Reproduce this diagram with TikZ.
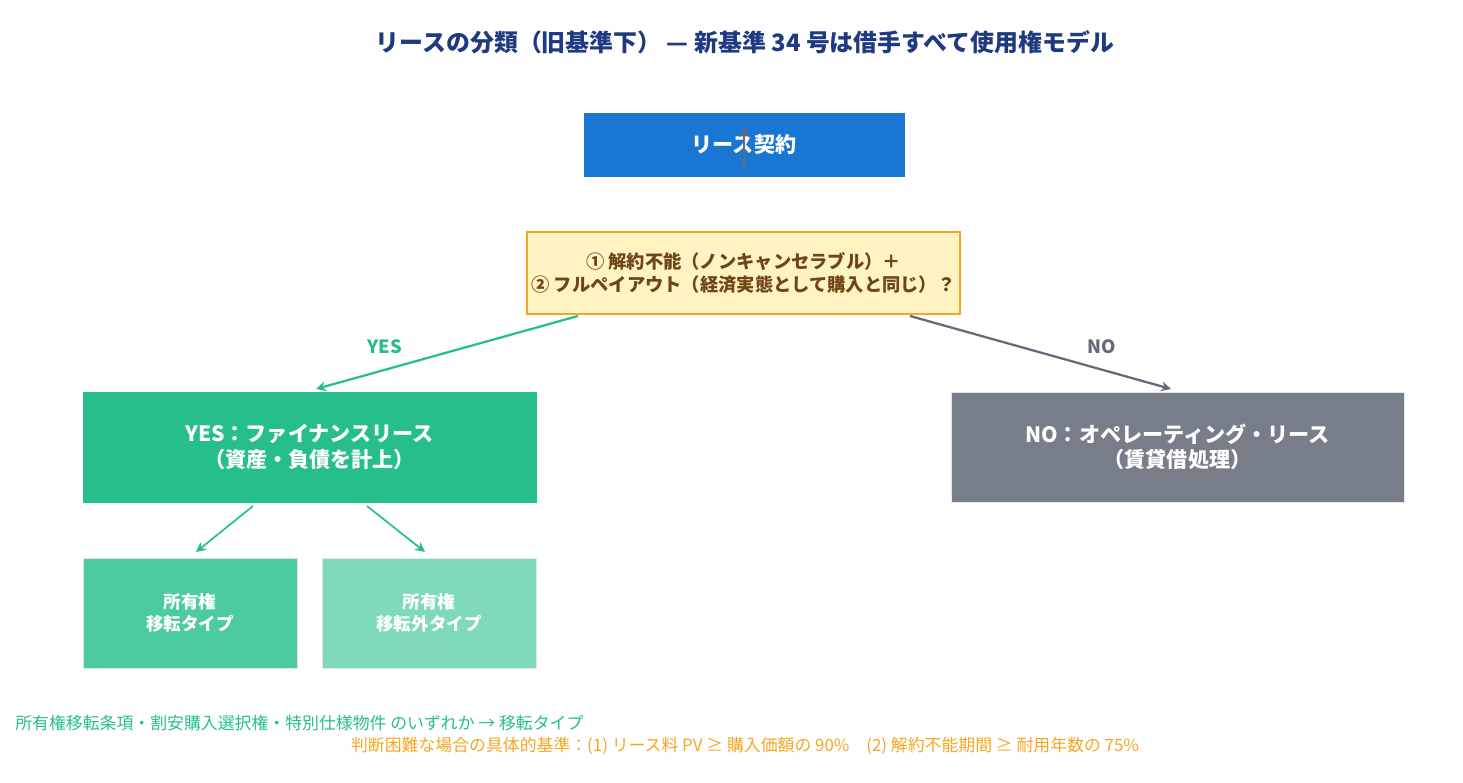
\documentclass[tikz,border=0pt]{standalone}
\usepackage{fontspec}
\setmainfont{Noto Sans CJK JP}
\usetikzlibrary{arrows.meta}
\definecolor{leaseNavy}{RGB}{31, 58, 128}
\definecolor{leaseBlue}{RGB}{25, 118, 210}
\definecolor{leaseCream}{RGB}{255, 243, 196}
\definecolor{leaseOrange}{RGB}{245, 166, 35}
\definecolor{leaseBrown}{RGB}{110, 70, 20}
\definecolor{leaseGreen}{RGB}{38, 191, 140}
\definecolor{leaseGreenMid}{RGB}{77, 203, 160}
\definecolor{leaseGreenLight}{RGB}{127, 217, 188}
\definecolor{leaseGray}{RGB}{120, 125, 138}
\definecolor{leaseArrowGray}{RGB}{100, 106, 120}
\tikzset{
  box/.style={draw=#1, fill=#1, text=white, font=\bfseries\fontsize{15}{18}\selectfont, align=center, inner sep=0pt},
  smallbox/.style={draw=black!10, fill=#1, text=white, font=\bfseries\fontsize{12.5}{16}\selectfont, align=center, inner sep=0pt, minimum width=5.35cm, minimum height=2.75cm},
  flow/.style={-{Stealth[length=7pt,width=7pt]}, line width=1.6pt}
}
\begin{document}
\begin{tikzpicture}[x=0.025cm, y=-0.025cm]
  \useasboundingbox (0,0) rectangle (1463,782);
  % Title
  \node[text=leaseNavy, font=\bfseries\fontsize{17}{20}\selectfont] (title) at (745,42) {リースの分類（旧基準下） — 新基準 34 号は借手すべて使用権モデル};

  % Boxes
  \node[box=leaseBlue, minimum width=8cm, minimum height=1.58cm] (lease) at (744,144.5) {リース契約};
  \node[draw=leaseOrange, line width=1.5pt, fill=leaseCream, text=leaseBrown, font=\bfseries\fontsize{13}{17}\selectfont, align=center, minimum width=10.8cm, minimum height=2.05cm] (test) at (743.5,273) {① 解約不能（ノンキャンセラブル）＋\\② フルペイアウト（経済実態として購入と同じ）？};
  \node[box=leaseGreen, minimum width=11.33cm, minimum height=2.75cm] (yes) at (309.5,447) {YES：ファイナンスリース\\（資産・負債を計上）};
  \node[box=leaseGray, draw=black!10, minimum width=11.33cm, minimum height=2.75cm] (no) at (1177.5,447) {NO：オペレーティング・リース\\（賃貸借処理）};
  \node[smallbox=leaseGreenMid] (transfer) at (190,613) {所有権\\移転タイプ};
  \node[smallbox=leaseGreenLight] (notransfer) at (429,613) {所有権\\移転外タイプ};

  % Arrows
  \draw[flow, leaseArrowGray] (lease.south) ++(0,-6) coordinate (a1) -- ++(0,-43);
  \draw[flow, leaseGreen] (578,316) -- (316,389);
  \draw[flow, leaseArrowGray] (910,316) -- (1171,389);
  \draw[flow, leaseGreen, line width=1.2pt] (253,506) -- (196,552);
  \draw[flow, leaseGreen, line width=1.2pt] (367,506) -- (425,552);
  \node[text=leaseGreen, font=\bfseries\fontsize{13}{15}\selectfont] (yeslbl) at (385,347) {YES};
  \node[text=leaseArrowGray, font=\bfseries\fontsize{13}{15}\selectfont] (nolbl) at (1102,347) {NO};

  % Notes
  \node[anchor=west, inner sep=0pt, text=leaseGreen, font=\fontsize{12}{14}\selectfont] (note1) at (15,723) {所有権移転条項・割安購入選択権・特別仕様物件 のいずれか → 移転タイプ};
  \node[inner sep=0pt, text=leaseOrange, font=\fontsize{12}{14}\selectfont] (note2) at (745,746) {判断困難な場合の具体的基準：(1) リース料 PV ≥ 購入価額の 90\%\quad (2) 解約不能期間 ≥ 耐用年数の 75\%};
\end{tikzpicture}
\end{document}
